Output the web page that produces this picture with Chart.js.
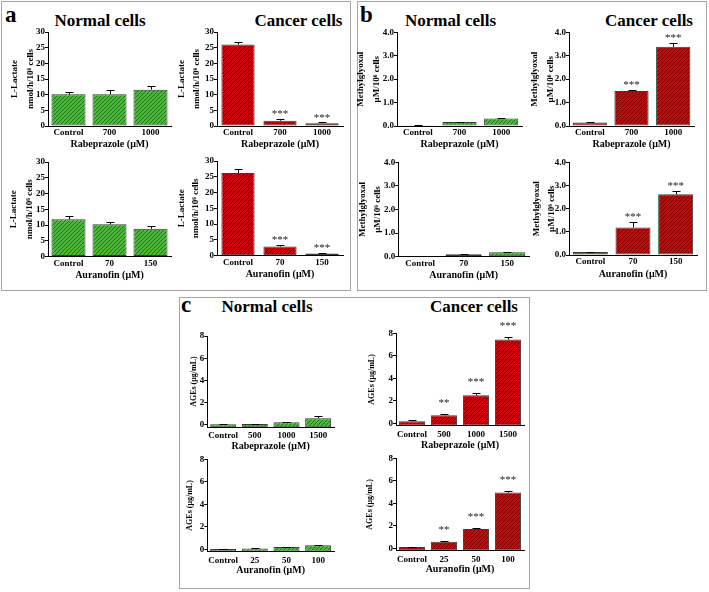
<!DOCTYPE html>
<html>
<head>
<meta charset="utf-8">
<script src="https://cdn.jsdelivr.net/npm/chart.js@4.4.1/dist/chart.umd.min.js"></script>
<style>
body{margin:0;background:#fff;}
#fig{position:relative;width:709px;height:592px;overflow:hidden;}
.box{position:absolute;border:1.5px solid #a5a5a5;box-sizing:border-box;}
.lbl{position:absolute;font-family:"Liberation Serif",serif;font-weight:bold;white-space:nowrap;line-height:1;color:#000;}
canvas{position:absolute;}
</style>
</head>
<body>
<div id="fig"></div>
<script>
// categories
const rabeA = ['Control', '700', '1000'];
const auraA = ['Control', '70', '150'];
const rabeC = ['Control', '500', '1000', '1500'];
const auraC = ['Control', '25', '50', '100'];

// L-Lactate, nmol/h/10^6 cells
const lacNormRabe = [10.1, 10.1, 11.6];
const lacNormRabeErr = [0.9, 1.3, 1.1];
const lacCancRabe = [26.0, 1.7, 0.9];
const lacCancRabeErr = [0.8, 0.6, 0.3];
const lacNormAura = [11.8, 10.2, 8.8];
const lacNormAuraErr = [1.0, 0.9, 1.0];
const lacCancAura = [26.2, 2.9, 0.7];
const lacCancAuraErr = [1.2, 0.5, 0.3];

// Methylglyoxal, uM/10^6 cells
const mgNormRabe = [0.03, 0.17, 0.32];
const mgNormRabeErr = [0.01, 0.02, 0.03];
const mgCancRabe = [0.15, 1.49, 3.38];
const mgCancRabeErr = [0.03, 0.06, 0.17];
const mgNormAura = [0.03, 0.10, 0.19];
const mgNormAuraErr = [0.01, 0.02, 0.03];
const mgCancAura = [0.13, 1.19, 2.62];
const mgCancAuraErr = [0.02, 0.24, 0.15];

// AGEs, ug/mL
const agNormRabe = [0.06, 0.08, 0.24, 0.6];
const agNormRabeErr = [0.03, 0.03, 0.06, 0.2];
const agCancRabe = [0.18, 0.72, 2.48, 7.45];
const agCancRabeErr = [0.07, 0.06, 0.18, 0.25];
const agNormAura = [0.03, 0.06, 0.2, 0.35];
const agNormAuraErr = [0.03, 0.03, 0.04, 0.04];
const agCancAura = [0.12, 0.57, 1.72, 4.95];
const agCancAuraErr = [0.03, 0.05, 0.1, 0.18];

const sig3 = ['', '***', '***'];
const sig4 = ['', '**', '***', '***'];

// tick labels
const lacTicks = [0, 5, 10, 15, 20, 25, 30];
const mgTicks = [0, 0.5, 1, 1.5, 2, 2.5, 3, 3.5, 4];
const agTicks = [0, 2, 4, 6, 8];

Chart.defaults.font.family = '"Liberation Serif", serif';
Chart.defaults.color = '#000';

const fig = document.getElementById('fig');

function addBox(l, t, w, h) {
    const d = document.createElement('div');
    d.className = 'box';
    d.style.cssText = 'left:' + l + 'px;top:' + t + 'px;width:' + w + 'px;height:' + h + 'px;';
    fig.appendChild(d);
}

// text placed by its baseline; x = centre, or left edge when left is true
function addText(txt, x, base, size, left) {
    const d = document.createElement('div');
    d.className = 'lbl';
    d.textContent = txt;
    d.style.fontSize = size + 'px';
    d.style.top = (base - 0.84 * size) + 'px';
    d.style.left = x + 'px';
    if (!left) d.style.transform = 'translateX(-50%)';
    fig.appendChild(d);
}

function hatch(base, line) {
    const c = document.createElement('canvas');
    c.width = 4; c.height = 4;
    const x = c.getContext('2d');
    x.fillStyle = base;
    x.fillRect(0, 0, 4, 4);
    x.strokeStyle = line;
    x.lineWidth = 1;
    x.beginPath();
    x.moveTo(-1, 5); x.lineTo(5, -1);
    x.moveTo(-1, 1); x.lineTo(1, -1);
    x.moveTo(3, 5); x.lineTo(5, 3);
    x.stroke();
    return x.createPattern(c, 'repeat');
}
const green = hatch('#4cb83c', '#1f6e19');
const red = hatch('#c80404', '#6c0000');

// error bars (upper only) and significance stars
const errorBars = {
    id: 'errorBars',
    afterDatasetsDraw(chart, args, opts) {
        const ctx = chart.ctx;
        const ds = chart.data.datasets[0];
        const meta = chart.getDatasetMeta(0);
        const y = chart.scales.y;
        ctx.save();
        ctx.strokeStyle = '#000';
        ctx.lineWidth = 1;
        meta.data.forEach(function(bar, i) {
            const top = y.getPixelForValue(ds.data[i] + opts.errors[i]);
            const bx = Math.round(bar.x) + 0.5;
            const ty = Math.round(top) + 0.5;
            ctx.beginPath();
            ctx.moveTo(bx, bar.y);
            ctx.lineTo(bx, ty);
            ctx.moveTo(bx - 4, ty);
            ctx.lineTo(bx + 4, ty);
            ctx.stroke();
            if (opts.stars && opts.stars[i]) {
                ctx.fillStyle = '#222';
                ctx.font = '11px "Liberation Serif"';
                ctx.textAlign = 'center';
                ctx.textBaseline = 'alphabetic';
                ctx.fillText(opts.stars[i], bar.x, top - opts.gap + 5);
            }
        });
        ctx.restore();
    }
};

function makeChart(g, cats, vals, errs, stars, fill, ticks, yMin, dec, yTitle, ySize, xTitle) {
    const padTop = 22, padRight = 4;
    const left = Math.round(g.x0 - g.d1 - g.lh / 2);
    const top = Math.round(g.yTop - padTop);
    const yW = g.x0 - left;
    const pTop = g.yTop - top;
    const h = Math.round(pTop + g.yBot - g.yTop + g.xH);
    const xH = h - pTop - (g.yBot - g.yTop);
    const w = Math.round(yW + g.x1 - g.x0 + padRight);
    const cv = document.createElement('canvas');
    cv.width = w; cv.height = h;
    cv.style.left = left + 'px';
    cv.style.top = top + 'px';
    fig.appendChild(cv);
    new Chart(cv, {
        type: 'bar',
        data: {
            labels: cats,
            datasets: [{
                data: vals,
                backgroundColor: fill,
                borderColor: '#3a3a3a',
                borderWidth: 1,
                borderSkipped: false,
                base: yMin,
                barPercentage: g.bp,
                categoryPercentage: 1
            }]
        },
        options: {
            responsive: false,
            animation: false,
            devicePixelRatio: 1,
            layout: { padding: { top: pTop, right: padRight, left: 0, bottom: 0 } },
            plugins: {
                legend: { display: false },
                tooltip: { enabled: false },
                errorBars: { errors: errs, stars: stars, gap: g.gap }
            },
            scales: {
                x: {
                    grid: { display: false, drawTicks: false },
                    border: { display: true, color: '#000', width: 1 },
                    ticks: { padding: g.lp, autoSkip: false, maxRotation: 0, font: { size: 9, weight: 'bold' } },
                    title: { display: true, text: xTitle, padding: 0, font: { size: 10, weight: 'bold', lineHeight: 1.2 } },
                    afterFit: function(s) { s.height = xH; }
                },
                y: {
                    min: yMin,
                    max: ticks[ticks.length - 1],
                    afterBuildTicks: function(s) { s.ticks = ticks.map(function(v) { return { value: v }; }); },
                    grid: { drawOnChartArea: false, drawTicks: true, tickLength: 3, color: '#000' },
                    border: { display: true, color: '#000', width: 1 },
                    ticks: {
                        padding: 0,
                        font: { size: 9, weight: 'bold' },
                        callback: function(v) { return v.toFixed(dec); }
                    },
                    title: { display: true, text: yTitle, padding: 0, font: { size: ySize, weight: 'bold', lineHeight: g.lh / ySize } },
                    afterFit: function(s) { s.width = yW; }
                }
            }
        },
        plugins: [errorBars]
    });
}

// panel frames and headings
addBox(1, 1, 350, 290);
addBox(357, 1, 350, 290);
addBox(179, 297, 351, 292);
addText('a', 5, 22.5, 23, true);
addText('b', 360, 22.5, 23, true);
addText('c', 181, 312, 23, true);
addText('Normal cells', 100, 26.7, 17);
addText('Cancer cells', 298.5, 26.7, 17);
addText('Normal cells', 450.5, 26.7, 17);
addText('Cancer cells', 649, 26.7, 17);
addText('Normal cells', 267, 312.7, 17);
addText('Cancer cells', 474, 312.7, 17);

const lacTitle = ['L-Lactate', 'nmol/h/10\u2076 cells'];
const mgTitle = ['Methylglyoxal', '\u03bcM/10\u2076 cells'];
const agTitle = 'AGEs (\u03bcg/mL)';
const rabeTitle = 'Rabeprazole (\u03bcM)';
const auraTitle = 'Auranofin (\u03bcM)';

// panel a
makeChart({ x0: 48, x1: 171, yTop: 32, yBot: 126, d1: 33, lh: 15.5, xH: 24, lp: 1.5, bp: 0.83, gap: 6.5 },
    rabeA, lacNormRabe, lacNormRabeErr, null, green, lacTicks, 0, 0, lacTitle, 9, rabeTitle);
makeChart({ x0: 217, x1: 343, yTop: 32, yBot: 126, d1: 36, lh: 15, xH: 24, lp: 1.5, bp: 0.79, gap: 6.5 },
    rabeA, lacCancRabe, lacCancRabeErr, sig3, red, lacTicks, 0, 0, lacTitle, 9, rabeTitle);
makeChart({ x0: 48, x1: 171, yTop: 162, yBot: 256.5, d1: 34, lh: 15.5, xH: 24.5, lp: 1.5, bp: 0.83, gap: 6.5 },
    auraA, lacNormAura, lacNormAuraErr, null, green, lacTicks, 0, 0, lacTitle, 9, auraTitle);
makeChart({ x0: 217, x1: 343, yTop: 161, yBot: 255.7, d1: 35, lh: 14, xH: 24.5, lp: 1.5, bp: 0.79, gap: 6.5 },
    auraA, lacCancAura, lacCancAuraErr, sig3, red, lacTicks, 0, 0, lacTitle, 9, auraTitle);

// panel b
makeChart({ x0: 397, x1: 522, yTop: 32.3, yBot: 126, d1: 35.7, lh: 15.7, xH: 24, lp: 1.5, bp: 0.82, gap: 6.5 },
    rabeA, mgNormRabe, mgNormRabeErr, null, green, mgTicks, 0, 1, mgTitle, 9, rabeTitle);
makeChart({ x0: 569, x1: 694, yTop: 32.3, yBot: 126, d1: 34, lh: 15.7, xH: 24, lp: 1.5, bp: 0.82, gap: 6.5 },
    rabeA, mgCancRabe, mgCancRabeErr, sig3, red, mgTicks, 0, 1, mgTitle, 9, rabeTitle);
makeChart({ x0: 398.3, x1: 529, yTop: 162.3, yBot: 256.7, d1: 36, lh: 15, xH: 24.3, lp: 1.5, bp: 0.83, gap: 6.5 },
    auraA, mgNormAura, mgNormAuraErr, null, green, mgTicks, 0, 1, mgTitle, 9, auraTitle);
makeChart({ x0: 569, x1: 697, yTop: 162.3, yBot: 255, d1: 33, lh: 15, xH: 24.5, lp: 1.5, bp: 0.82, gap: 6.5 },
    auraA, mgCancAura, mgCancAuraErr, sig3, red, mgTicks, 0, 1, mgTitle, 9, auraTitle);

// panel c
makeChart({ x0: 207.3, x1: 334.3, yTop: 336, yBot: 427.2, d1: 14, lh: 9.6, xH: 25, lp: 3.5, bp: 0.82, gap: 13 },
    rabeC, agNormRabe, agNormRabeErr, null, green, agTicks, -0.2, 0, agTitle, 8, rabeTitle);
makeChart({ x0: 396, x1: 524, yTop: 333.3, yBot: 425.5, d1: 24, lh: 9.6, xH: 25, lp: 3.5, bp: 0.81, gap: 13 },
    rabeC, agCancRabe, agCancRabeErr, sig4, red, agTicks, -0.2, 0, agTitle, 8, rabeTitle);
makeChart({ x0: 207.3, x1: 334.3, yTop: 459.3, yBot: 551.5, d1: 18, lh: 9.6, xH: 25, lp: 3.5, bp: 0.82, gap: 13 },
    auraC, agNormAura, agNormAuraErr, null, green, agTicks, -0.2, 0, agTitle, 8, auraTitle);
makeChart({ x0: 396, x1: 524, yTop: 458.3, yBot: 550.5, d1: 26, lh: 9.6, xH: 25, lp: 3.5, bp: 0.81, gap: 13 },
    auraC, agCancAura, agCancAuraErr, sig4, red, agTicks, -0.2, 0, agTitle, 8, auraTitle);
</script>
</body>
</html>
